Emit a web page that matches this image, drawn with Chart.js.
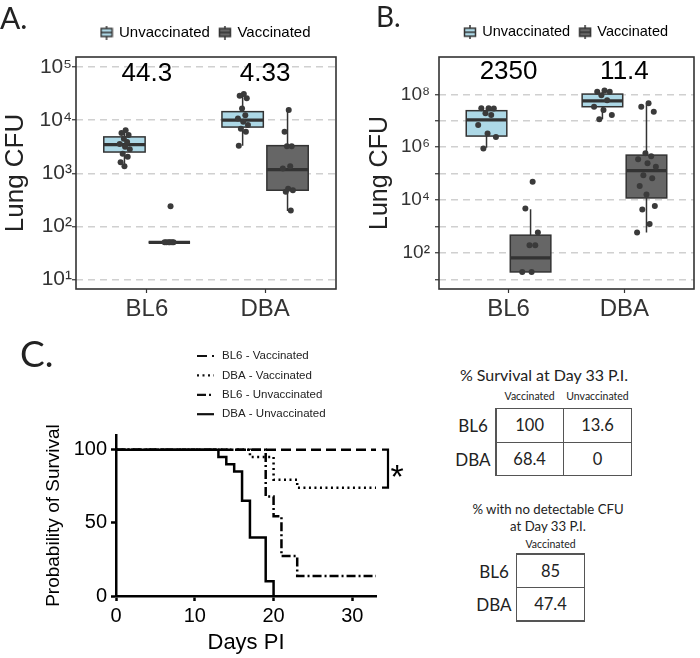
<!DOCTYPE html>
<html>
<head>
<meta charset="utf-8">
<script src="https://cdn.jsdelivr.net/npm/chart.js@4.4.1/dist/chart.umd.min.js"></script>
<style>
  body { margin: 0; background: #fff; }
  #wrap { position: relative; width: 700px; height: 658px; overflow: hidden; font-family: Lato, 'Open Sans', sans-serif; color: #222; }
  canvas { position: absolute; }
  .lbl { position: absolute; line-height: 1; white-space: nowrap; }
  .c { transform: translate(-50%, -50%); }
  .ln { position: absolute; background: #555; }
</style>
</head>
<body>
<div id="wrap">
  <canvas id="chartA" width="345" height="330" style="left:0;top:0"></canvas>
  <canvas id="chartB" width="350" height="330" style="left:350px;top:0"></canvas>
  <canvas id="chartC" width="440" height="328" style="left:0;top:330px"></canvas>
  <div class="lbl" style="left:0;top:2px;font-size:30px">A.</div>
  <div class="lbl" style="left:376px;top:2px;font-size:28px">B.</div>
  <div class="lbl" style="left:20px;top:334px;font-size:37px">C.</div>
</div>
<script>
// ---- data ----
const strains = ['BL6', 'DBA'];
const groupNames = ['Unvaccinated', 'Vaccinated'];

// box stats per strain: [lower whisker, Q1, median, Q3, upper whisker] (CFU)
const boxA_unvac = [[1350, 2510, 3470, 4840, 6460], [3310, 7410, 10000, 14450, 30200]];
const boxA_vac = [[50, 50, 50, 50, 50], [195, 479, 1175, 3310, 15850]];
const ptsA_unvac = [
  [6460, 5750, 5250, 4470, 3890, 3550, 3160, 2820, 2340, 2040, 1620, 1350],
  [30900, 28800, 25700, 16600, 12300, 10700, 9330, 8130, 6920, 6030, 3310]
];
const ptsA_vac = [
  [240, 50, 50, 50, 50, 50, 50],
  [15500, 6030, 3240, 3240, 1350, 1230, 513, 479, 447, 200]
];
const foldA = ['44.3', '4.33'];

const boxB_unvac = [[955000, 2630000, 10700000, 24000000, 28200000], [11500000, 33900000, 56000000, 102000000, 126000000]];
const boxB_vac = [[19, 19, 65, 468, 4470], [589, 12000, 129000, 501000, 42000000]];
const ptsB_unvac = [
  [29500000, 29500000, 28800000, 19000000, 16600000, 6900000, 3300000, 2450000, 890000],
  [138000000, 126000000, 126000000, 93000000, 60000000, 34000000, 25700000, 16600000, 11500000]
];
const ptsB_vac = [
  [49000, 4790, 589, 195, 195, 19, 19],
  [45700000, 33900000, 21900000, 590000, 457000, 347000, 245000, 182000, 87000, 66000, 34000, 16200, 5900, 4400, 1230, 589]
];
const foldB = ['2350', '11.4'];

// survival curves (Kaplan-Meier steps)
const daysBL6Vac = [0, 33];
const survBL6Vac = [100, 100];
const daysDBAVac = [0, 17, 20, 23, 33];
const survDBAVac = [100, 95, 79.5, 74, 74];
const daysBL6Unvac = [0, 19, 20, 21, 23, 33];
const survBL6Unvac = [100, 68, 54.5, 27.3, 13.6, 13.6];
const daysDBAUnvac = [0, 13, 14, 15, 16, 17, 19, 20];
const survDBAUnvac = [100, 95, 90, 85, 65, 40, 10, 0];

// tables
const survivalCols = ['Vaccinated', 'Unvaccinated'];
const survivalPct = [[100, 13.6], [68.4, 0]];
const clearedPct = [85, 47.4];

// ---- styling ----
const FONT = "'Liberation Sans', Arial, sans-serif";
const BOX_FILL = ['#ADD8E6', '#666666'];
const DODGE = 0.19;
const BOX_W = 0.35;
const JITTER = [0.2, -0.5, 0.7, -0.1, 0.45, -0.8, 0.1, 0.9, -0.3, 0.55, -0.65, 0.0, 0.8, -0.4, 0.3, -0.9];
const SUP = {'0': '⁰', '1': '¹', '2': '²', '3': '³', '4': '⁴', '5': '⁵', '6': '⁶', '7': '⁷', '8': '⁸', '9': '⁹'};

function powLabel(v) {
  const e = String(Math.round(Math.log10(v)));
  return '10' + e.split('').map(d => SUP[d]).join('');
}

function boxIcon(fill) {
  const c = document.createElement('canvas');
  c.width = 14; c.height = 14;
  const g = c.getContext('2d');
  g.strokeStyle = '#333'; g.lineWidth = 1.5;
  g.beginPath(); g.moveTo(7, 0); g.lineTo(7, 14); g.stroke();
  g.fillStyle = fill;
  g.fillRect(1.5, 3, 11, 8); g.strokeRect(1.5, 3, 11, 8);
  g.beginPath(); g.moveTo(1.5, 7); g.lineTo(12.5, 7); g.stroke();
  return c;
}

function dodgePoints(ptsByStrain, side, jit) {
  const out = [];
  ptsByStrain.forEach((vals, i) => {
    vals.forEach((v, j) => out.push({x: i + 1 + side * DODGE + JITTER[j % JITTER.length] * jit, y: v}));
  });
  return out;
}

function makeBoxChart(id, p) {
  const boxes = [];
  strains.forEach((s, i) => {
    boxes.push({x: i + 1 - DODGE, stats: p.boxUnvac[i], fill: BOX_FILL[0]});
    boxes.push({x: i + 1 + DODGE, stats: p.boxVac[i], fill: BOX_FILL[1]});
  });
  const icons = BOX_FILL.map(boxIcon);

  const boxPlugin = {
    id: 'boxes',
    beforeInit(chart) {
      const fit = chart.legend.fit;
      chart.legend.fit = function () { fit.call(this); this.height = 42; };
    },
    beforeDraw(chart) {
      chart.legend.left = chart.chartArea.left;
      chart.legend.right = chart.chartArea.right;
    },
    beforeDatasetsDraw(chart) {
      const {ctx, scales: {x, y}} = chart;
      ctx.save();
      ctx.strokeStyle = '#333';
      boxes.forEach(b => {
        const [lo, q1, med, q3, hi] = b.stats.map(v => y.getPixelForValue(v));
        const xc = x.getPixelForValue(b.x);
        const hw = x.getPixelForValue(b.x + BOX_W / 2) - xc;
        ctx.lineWidth = 1.5;
        ctx.beginPath();
        ctx.moveTo(xc, hi); ctx.lineTo(xc, q3);
        ctx.moveTo(xc, q1); ctx.lineTo(xc, lo);
        ctx.stroke();
        ctx.fillStyle = b.fill;
        ctx.fillRect(xc - hw, q3, 2 * hw, q1 - q3);
        ctx.strokeRect(xc - hw, q3, 2 * hw, q1 - q3);
        ctx.lineWidth = 3.2;
        ctx.beginPath(); ctx.moveTo(xc - hw, med); ctx.lineTo(xc + hw, med); ctx.stroke();
      });
      ctx.restore();
    },
    afterDraw(chart) {
      const {ctx, chartArea: a, scales: {x}} = chart;
      ctx.save();
      ctx.strokeStyle = '#333'; ctx.lineWidth = 1.6;
      ctx.strokeRect(a.left, a.top, a.right - a.left, a.bottom - a.top);
      ctx.fillStyle = '#000';
      ctx.font = '26px ' + FONT;
      ctx.textAlign = 'center'; ctx.textBaseline = 'middle';
      p.folds.forEach((t, i) => ctx.fillText(t, x.getPixelForValue(i + 1), a.top + p.foldDy));
      ctx.restore();
    }
  };

  return new Chart(document.getElementById(id), {
    type: 'scatter',
    data: {
      datasets: [
        {label: groupNames[0], data: dodgePoints(p.ptsUnvac, -1, p.jit)},
        {label: groupNames[1], data: dodgePoints(p.ptsVac, 1, p.jit)}
      ]
    },
    options: {
      responsive: false, animation: false, events: [],
      layout: {padding: {top: 15, right: p.padRight, left: 0, bottom: 0}},
      elements: {point: {radius: 3, backgroundColor: '#3a3a3a', borderWidth: 0}},
      scales: {
        x: {
          type: 'linear', min: 0.4, max: 2.6,
          afterBuildTicks: s => { s.ticks = strains.map((_, i) => ({value: i + 1})); },
          afterFit: s => { s.height = 41; },
          ticks: {callback: v => strains[Math.round(v) - 1], font: {family: FONT, size: p.xFont}, color: '#333',
                  padding: 2, maxRotation: 0, autoSkip: false},
          grid: {drawOnChartArea: false, tickLength: 4, tickColor: '#333', tickWidth: 1.2},
          border: {display: false}
        },
        y: {
          type: 'logarithmic', min: p.yMin, max: p.yMax, bounds: 'data',
          afterBuildTicks: s => { s.ticks = p.decades.map(e => ({value: Math.pow(10, e)})); },
          afterFit: s => { s.width = p.yWidth; },
          ticks: {
            callback: v => (Math.round(Math.log10(v)) % p.labelStep === 0 ? powLabel(v) : ''),
            font: {family: FONT, size: p.tickFont}, color: '#333', padding: p.tickPad, autoSkip: false
          },
          grid: {color: '#d0d0d0', lineWidth: 1.5, tickLength: 4, tickColor: '#333', tickWidth: 1.2},
          border: {display: false, dash: [7, 5]},
          title: {display: true, text: 'Lung CFU', font: {family: FONT, size: p.titleFont}, color: '#222',
                  padding: {top: p.titlePad, bottom: 0}}
        }
      },
      plugins: {
        tooltip: {enabled: false},
        legend: {
          position: 'top',
          labels: {
            usePointStyle: true, pointStyleWidth: 10, padding: 10, color: '#333',
            font: {family: FONT, size: p.legendFont},
            generateLabels: () => groupNames.map((n, i) => ({
              text: n, pointStyle: icons[i], fillStyle: BOX_FILL[i], strokeStyle: '#333',
              lineWidth: 0, hidden: false, datasetIndex: i
            }))
          }
        }
      }
    },
    plugins: [boxPlugin]
  });
}

makeBoxChart('chartA', {
  boxUnvac: boxA_unvac, boxVac: boxA_vac, ptsUnvac: ptsA_unvac, ptsVac: ptsA_vac, folds: foldA,
  yMin: 6.62, yMax: 154500, decades: [1, 2, 3, 4, 5], labelStep: 1,
  yWidth: 76, titlePad: 0, titleFont: 26, tickPad: 0, tickFont: 21, xFont: 24,
  padRight: 9, jit: 0.05, foldDy: 17, legendFont: 15
});

makeBoxChart('chartB', {
  boxUnvac: boxB_unvac, boxVac: boxB_vac, ptsUnvac: ptsB_unvac, ptsVac: ptsB_vac, folds: foldB,
  yMin: 4.3, yMax: 2.58e9, decades: [1, 2, 3, 4, 5, 6, 7, 8], labelStep: 2,
  yWidth: 89, titlePad: 15, titleFont: 25, tickPad: 5, tickFont: 19, xFont: 24,
  padRight: 6, jit: 0.09, foldDy: 15, legendFont: 14.5
});

// ---- panel C: survival ----
const curves = [
  {label: 'BL6 - Vaccinated', days: daysBL6Vac, surv: survBL6Vac, dash: [10, 5]},
  {label: 'DBA - Vaccinated', days: daysDBAVac, surv: survDBAVac, dash: [2, 3.5]},
  {label: 'BL6 - Unvaccinated', days: daysBL6Unvac, surv: survBL6Unvac, dash: [9, 3, 2, 3]},
  {label: 'DBA - Unvaccinated', days: daysDBAUnvac, surv: survDBAUnvac, dash: []}
];

const survivalExtras = {
  id: 'survivalExtras',
  afterDraw(chart) {
    const {ctx, scales: {x, y}} = chart;
    ctx.save();
    // legend
    chart.data.datasets.forEach((ds, i) => {
      const ly = 26 + i * 19.4;
      ctx.strokeStyle = '#111'; ctx.lineWidth = 2.2;
      ctx.setLineDash(ds.borderDash);
      ctx.beginPath(); ctx.moveTo(197, ly); ctx.lineTo(214, ly); ctx.stroke();
      ctx.setLineDash([]);
      ctx.fillStyle = '#222'; ctx.font = '11.5px ' + FONT;
      ctx.textAlign = 'left'; ctx.textBaseline = 'middle';
      ctx.fillText(ds.label, 222, ly);
    });
    // significance bracket between the vaccinated curves at the last day
    const last = a => a[a.length - 1];
    const xe = x.getPixelForValue(last(daysBL6Vac));
    const y1 = y.getPixelForValue(last(survBL6Vac));
    const y2 = y.getPixelForValue(last(survDBAVac));
    ctx.strokeStyle = '#000'; ctx.lineWidth = 2.2;
    ctx.beginPath();
    ctx.moveTo(xe + 6, y1); ctx.lineTo(xe + 12, y1); ctx.lineTo(xe + 12, y2); ctx.lineTo(xe + 6, y2);
    ctx.stroke();
    const size = 34;
    ctx.fillStyle = '#000'; ctx.font = size + 'px ' + FONT;
    ctx.textAlign = 'center'; ctx.textBaseline = 'alphabetic';
    ctx.fillText('*', xe + 21, (y1 + y2) / 2 + 0.57 * size);
    ctx.restore();
  }
};

new Chart(document.getElementById('chartC'), {
  type: 'line',
  data: {
    datasets: curves.map(c => ({
      label: c.label,
      data: c.days.map((d, i) => ({x: d, y: c.surv[i]})),
      borderColor: '#000', borderWidth: 2.5, borderDash: c.dash, borderCapStyle: 'butt',
      pointRadius: 0, fill: false, stepped: true
    }))
  },
  options: {
    responsive: false, animation: false, events: [],
    layout: {padding: {top: 105, right: 64, left: 0, bottom: 0}},
    scales: {
      x: {
        type: 'linear', min: 0, max: 33,
        afterFit: s => { s.height = 62; },
        ticks: {stepSize: 10, includeBounds: false, font: {family: FONT, size: 20}, color: '#000', padding: 3, maxRotation: 0},
        grid: {drawOnChartArea: false, tickLength: 5, tickColor: '#000', tickWidth: 2.5},
        border: {color: '#000', width: 2.5},
        title: {display: true, text: 'Days PI', font: {family: FONT, size: 22}, color: '#000', padding: {top: 0, bottom: 2}}
      },
      y: {
        min: 0, max: 110,
        afterFit: s => { s.width = 116; },
        ticks: {stepSize: 50, includeBounds: false, font: {family: FONT, size: 20}, color: '#000', padding: 4},
        grid: {drawOnChartArea: false, tickLength: 5, tickColor: '#000', tickWidth: 2.5},
        border: {color: '#000', width: 2.5},
        title: {display: true, text: 'Probability of Survival', font: {family: FONT, size: 19}, color: '#000', padding: {top: 42, bottom: 0}}
      }
    },
    plugins: {legend: {display: false}, tooltip: {enabled: false}}
  },
  plugins: [survivalExtras]
});

// ---- tables ----
const wrap = document.getElementById('wrap');
function addText(txt, x, y, size) {
  const d = document.createElement('div');
  d.className = 'lbl c';
  d.style.left = x + 'px'; d.style.top = y + 'px'; d.style.fontSize = size + 'px';
  d.textContent = txt;
  wrap.appendChild(d);
}
function addGrid(xs, ys) {
  const lw = 1.3;
  xs.forEach(x => {
    const d = document.createElement('div');
    d.className = 'ln';
    Object.assign(d.style, {left: (x - lw / 2) + 'px', top: (ys[0] - lw / 2) + 'px', width: lw + 'px', height: (ys[ys.length - 1] - ys[0] + lw) + 'px'});
    wrap.appendChild(d);
  });
  ys.forEach(y => {
    const d = document.createElement('div');
    d.className = 'ln';
    Object.assign(d.style, {left: (xs[0] - lw / 2) + 'px', top: (y - lw / 2) + 'px', height: lw + 'px', width: (xs[xs.length - 1] - xs[0] + lw) + 'px'});
    wrap.appendChild(d);
  });
}
const mid = (a, i) => (a[i] + a[i + 1]) / 2;

// survival table
const t1x = [496, 563.3, 631.7], t1y = [408.3, 442.3, 475.7];
addText('% Survival at Day 33 P.I.', 544, 375, 16);
survivalCols.forEach((c, j) => addText(c, mid(t1x, j), 395.5, 10.5));
strains.forEach((s, i) => {
  addText(s, 473, mid(t1y, i), 17);
  survivalPct[i].forEach((v, j) => addText(String(v), mid(t1x, j), mid(t1y, i), 16.5));
});
addGrid(t1x, t1y);

// cleared table
const t2x = [516.7, 584.3], t2y = [554, 587.3, 621];
addText('% with no detectable CFU', 548, 510, 13.2);
addText('at Day 33 P.I.', 548, 526.5, 13.2);
addText(survivalCols[0], mid(t2x, 0), 543.5, 10.5);
strains.forEach((s, i) => {
  addText(s, 494, mid(t2y, i), 17);
  addText(String(clearedPct[i]), mid(t2x, 0), mid(t2y, i), 16.5);
});
addGrid(t2x, t2y);
</script>
</body>
</html>
